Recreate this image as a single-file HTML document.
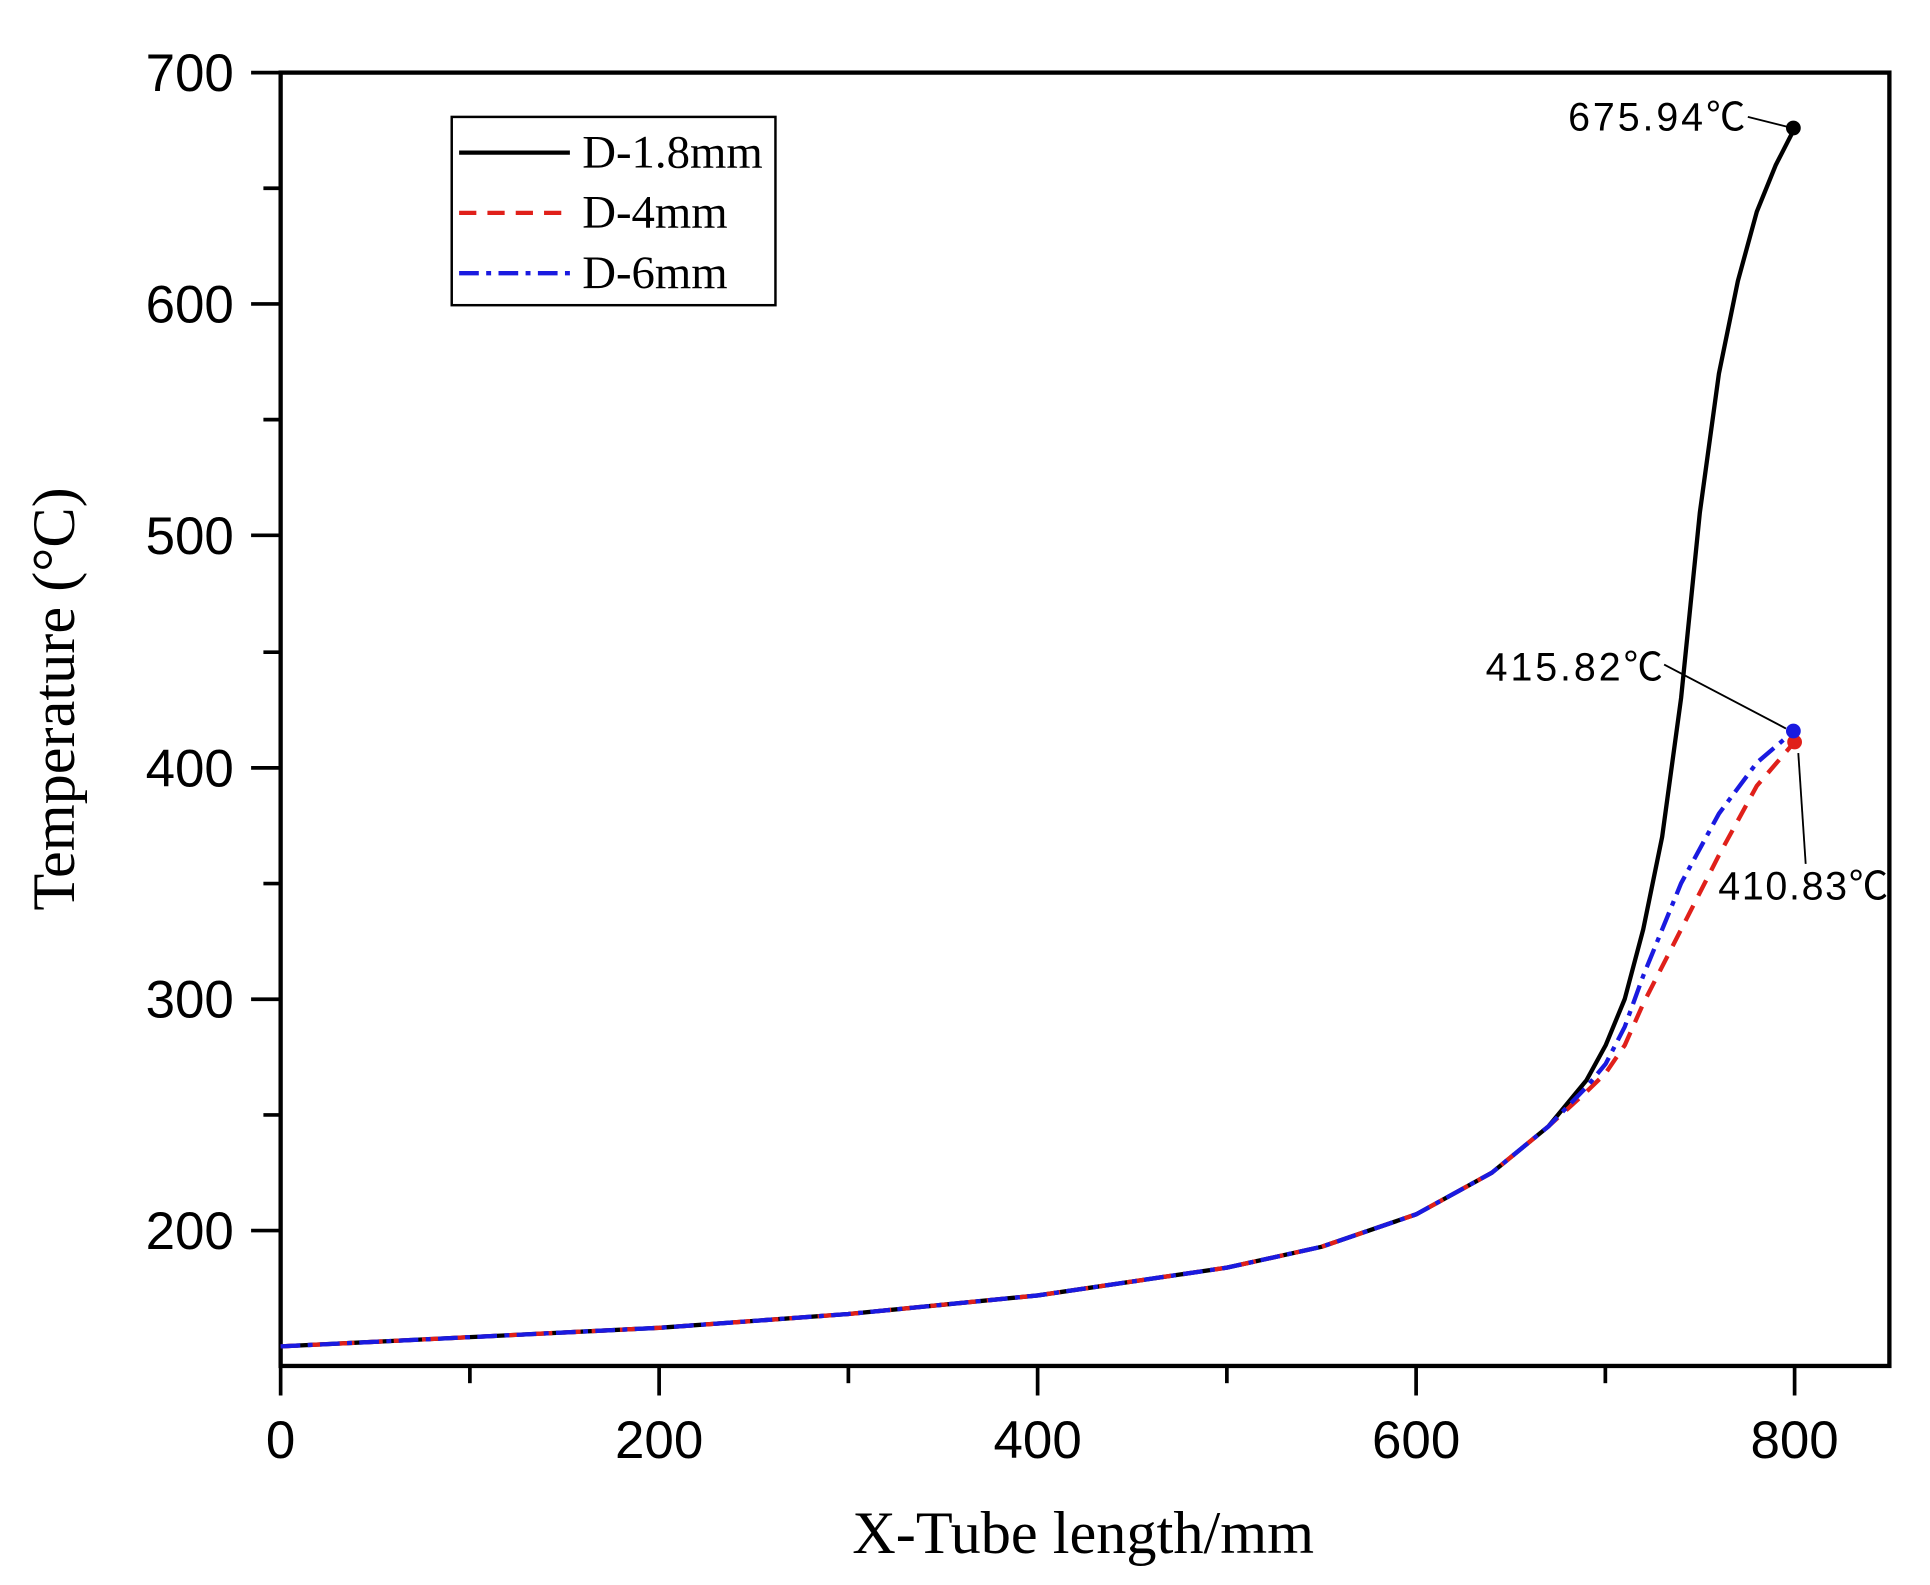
<!DOCTYPE html>
<html><head><meta charset="utf-8"><style>html,body{margin:0;padding:0;background:#fff}svg{display:block}</style></head>
<body>
<svg width="1930" height="1585" viewBox="0 0 1568 1288" preserveAspectRatio="none" xmlns="http://www.w3.org/2000/svg">
<rect x="0" y="0" width="1568" height="1288" fill="#fff"/>
<rect x="228" y="59" width="1307" height="1051" fill="none" stroke="#000" stroke-width="3.5"/>
<g stroke="#000" stroke-width="3">
<line x1="204" y1="59" x2="228" y2="59"/><line x1="204" y1="247" x2="228" y2="247"/><line x1="204" y1="435" x2="228" y2="435"/><line x1="204" y1="624" x2="228" y2="624"/><line x1="204" y1="812" x2="228" y2="812"/><line x1="204" y1="1000" x2="228" y2="1000"/>
<line x1="214" y1="153" x2="228" y2="153"/><line x1="214" y1="341" x2="228" y2="341"/><line x1="214" y1="530" x2="228" y2="530"/><line x1="214" y1="718" x2="228" y2="718"/><line x1="214" y1="906" x2="228" y2="906"/>
<line x1="228" y1="1110" x2="228" y2="1134"/><line x1="535.5" y1="1110" x2="535.5" y2="1134"/><line x1="843" y1="1110" x2="843" y2="1134"/><line x1="1150.5" y1="1110" x2="1150.5" y2="1134"/><line x1="1458" y1="1110" x2="1458" y2="1134"/>
<line x1="381.75" y1="1110" x2="381.75" y2="1124"/><line x1="689.25" y1="1110" x2="689.25" y2="1124"/><line x1="996.75" y1="1110" x2="996.75" y2="1124"/><line x1="1304.25" y1="1110" x2="1304.25" y2="1124"/>
</g>
<g font-family="Liberation Sans, sans-serif" font-size="43" fill="#000" text-anchor="end">
<text x="190" y="74">700</text><text x="190" y="262">600</text><text x="190" y="450">500</text><text x="190" y="639">400</text><text x="190" y="827">300</text><text x="190" y="1015">200</text>
</g>
<g font-family="Liberation Sans, sans-serif" font-size="43" fill="#000" text-anchor="middle">
<text x="228" y="1185">0</text><text x="535.5" y="1185">200</text><text x="843" y="1185">400</text><text x="1150.5" y="1185">600</text><text x="1458" y="1185">800</text>
</g>
<text x="880" y="1262" font-family="Liberation Serif, serif" font-size="49" text-anchor="middle">X-Tube length/mm</text>
<text transform="translate(60,568) rotate(-90)" font-family="Liberation Serif, serif" font-size="49" text-anchor="middle">Temperature (°C)</text>
<polyline fill="none" stroke="#000" stroke-width="3.5" stroke-linejoin="round" points="228,1094.1 381.75,1086.6 535.5,1079 689.25,1067.8 843,1052.7 996.75,1030.1 1073.6,1013.2 1150.5,986.8 1212,953 1258,915.3 1289,877.7 1304.5,849.4 1320,811.8 1335,755.3 1350.4,680 1365.8,567.1 1373.4,491.9 1381,416.6 1396.5,303.7 1411.9,228.4 1427.3,172 1442.6,134.3 1458,104.2"/>
<polyline fill="none" stroke="#e0201a" stroke-width="3.5" stroke-dasharray="14,9" points="228,1094.1 381.75,1086.6 535.5,1079 689.25,1067.8 843,1052.7 996.75,1030.1 1073.6,1013.2 1150.5,986.8 1212,953 1258,915.3 1289,887.1 1304.5,872 1320,849.4 1335,815.6 1365.8,755.3 1396.5,695 1427.3,638.6 1458,602.9"/>
<polyline fill="none" stroke="#1a1ae0" stroke-width="3.5" stroke-dasharray="16,6,4,6" points="228,1094.1 381.75,1086.6 535.5,1079 689.25,1067.8 843,1052.7 996.75,1030.1 1073.6,1013.2 1150.5,986.8 1212,953 1258,915.3 1289,883.3 1304.5,864.5 1320,834.4 1335,793 1365.8,717.7 1396.5,661.2 1427.3,619.8 1458,593.5"/>
<circle cx="1458" cy="603" r="6" fill="#e0201a"/>
<circle cx="1457" cy="594" r="6" fill="#1a1ae0"/>
<circle cx="1457" cy="104" r="6" fill="#000"/>
<g stroke="#000" stroke-width="1.5">
<line x1="1420" y1="95" x2="1452" y2="103"/>
<line x1="1352" y1="540" x2="1451" y2="592"/>
<line x1="1461" y1="612" x2="1467" y2="702"/>
</g>
<g font-family="Liberation Sans, 'Noto Sans CJK SC', sans-serif" font-size="32" fill="#000">
<text x="1274" y="106" textLength="144">675.94℃</text>
<text x="1207" y="553" textLength="144">415.82℃</text>
<text x="1396" y="731" textLength="138">410.83℃</text>
</g>
<rect x="367" y="95" width="263" height="153" fill="#fff" stroke="#000" stroke-width="2"/>
<line x1="373" y1="124" x2="463" y2="124" stroke="#000" stroke-width="3.5"/>
<line x1="373" y1="173" x2="463" y2="173" stroke="#e0201a" stroke-width="3.5" stroke-dasharray="14,9"/>
<line x1="373" y1="222" x2="463" y2="222" stroke="#1a1ae0" stroke-width="3.5" stroke-dasharray="16,6,4,6"/>
<g font-family="Liberation Serif, serif" font-size="38" fill="#000">
<text x="473" y="136">D-1.8mm</text><text x="473" y="185">D-4mm</text><text x="473" y="234">D-6mm</text>
</g>
</svg>
</body></html>
